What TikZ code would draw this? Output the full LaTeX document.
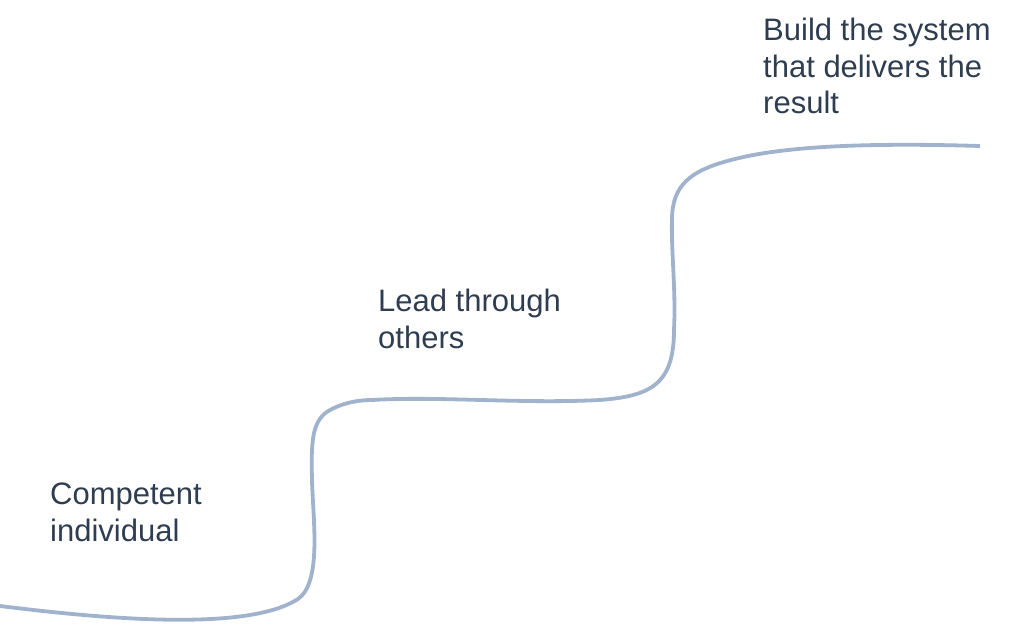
\documentclass[tikz,border=0pt]{standalone}
\usepackage{fontspec}
\setmainfont{Liberation Sans}
\definecolor{curvecol}{HTML}{A0B2CC}
\definecolor{textcol}{HTML}{2E3D4F}
\begin{document}
\begin{tikzpicture}[x=1pt,y=-1pt,lbl/.style={anchor=north west,inner sep=0pt,align=left,text=textcol,font=\fontsize{31}{36.5}\selectfont}]
            \useasboundingbox (0,0) rectangle (1024,624);
            \draw[curvecol,line width=3.8pt] (0,606) .. controls (120,621) and (250,630) .. (298,599)
                .. controls (322,582) and (313,520) .. (312,480) .. controls (311,440) and (312,420) .. (330,410)
                .. controls (345,402) and (360,400) .. (372,400) .. controls (440,396) and (520,404) .. (600,400)
                .. controls (650,396) and (674,385) .. (674,330) .. controls (676,290) and (671,250) .. (672,220)
                .. controls (672,185) and (690,170) .. (735,159) .. controls (790,145) and (880,143) .. (980,146);
            \node[lbl] (comp) at (50,483) {Competent\\individual};
            \node[lbl] (lead) at (378,289) {Lead through\\others};
            \node[lbl] (build) at (763,18) {Build the system\\that delivers the\\result};
        \end{tikzpicture}
\end{document}
